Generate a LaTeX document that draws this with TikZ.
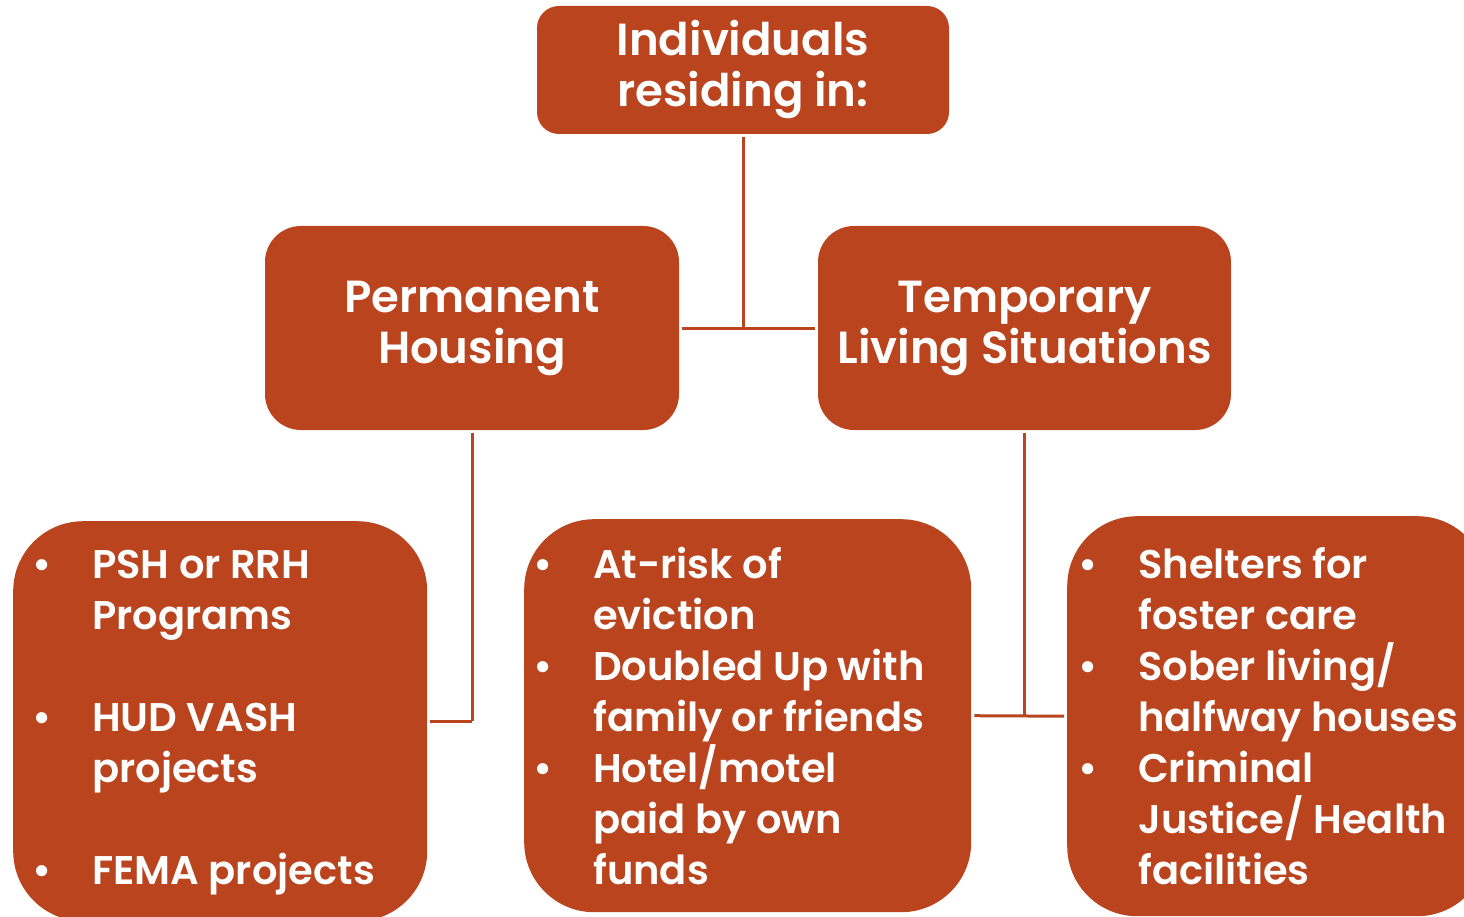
\documentclass[tikz,border=0pt]{standalone}
\usepackage{fontspec}
\setmainfont{Poppins}[BoldFont={Poppins SemiBold}]
\usetikzlibrary{positioning}
\definecolor{rust}{HTML}{B9441E}
% list rows: bullet row and follow-on row
\newcommand{\bl}[1]{\smash{\makebox[60pt][l]{\textbullet}#1}}
\newcommand{\il}[1]{\smash{\hspace*{60pt}#1}}
\tikzset{
  box/.style={fill=rust, rounded corners=#1, inner sep=0pt},
  head/.style={text=white, font=\bfseries\fontsize{45}{51}\selectfont, align=center},
  listtext/.style={text=white, font=\bfseries\fontsize{40}{51}\selectfont, anchor=base west, inner sep=0pt},
  link/.style={draw=rust, line width=3pt, shorten <=3pt, shorten >=3pt},
}
\begin{document}
\begin{tikzpicture}[x=1pt,y=-1pt]
\useasboundingbox (0,0) rectangle (1464,917);
% top levels
\node[box=22pt, head, minimum width=412pt, minimum height=128pt] (top) at (743,70) {Individuals\\residing in:};
\node[box=36pt, head, minimum width=414pt, minimum height=204pt] (perm) at (472,328) {Permanent\\Housing};
\node[box=36pt, head, minimum width=413pt, minimum height=204pt] (temp) at (1024.5,328) {Temporary\\Living Situations};
% list boxes
\node[box=70pt, minimum width=414pt, minimum height=400pt, anchor=north west] (plist) at (13,521) {};
\node[box=70pt, minimum width=447pt, minimum height=393pt, anchor=north west] (alist) at (524,519) {};
\node[box=70pt, minimum width=420pt, minimum height=400pt, anchor=north west] (tlist) at (1067,516) {};
\node[listtext] (ptext) at (32,578) {\begin{tabular}[t]{@{}l@{}}
\bl{PSH or RRH}\\ \il{Programs}\\ \\ \bl{HUD VASH}\\ \il{projects}\\ \\ \bl{FEMA projects}
\end{tabular}};
\node[listtext] (atext) at (533,578) {\begin{tabular}[t]{@{}l@{}}
\bl{At-risk of}\\ \il{eviction}\\ \bl{Doubled Up with}\\ \il{family or friends}\\ \bl{Hotel/motel}\\ \il{paid by own}\\ \il{funds}
\end{tabular}};
\node[listtext] (ttext) at (1078,578) {\begin{tabular}[t]{@{}l@{}}
\bl{Shelters for}\\ \il{foster care}\\ \bl{Sober living/}\\ \il{halfway houses}\\ \bl{Criminal}\\ \il{Justice/ Health}\\ \il{facilities}
\end{tabular}};
% connectors
\draw[link, shorten >=0pt] (top.south) -- (top.south |- perm.east);
\draw[link] (perm.east) -- (temp.west);
\draw[link, shorten >=0pt] (perm.south) -- (perm.south |- plist.east);
\draw[link, shorten <=0pt] (perm.south |- plist.east) -- (plist.east);
\draw[link, shorten >=0pt] (temp.south) -- (temp.south |- alist.east);
\draw[link] (alist.east) -- (tlist.west);
\end{tikzpicture}
\end{document}
